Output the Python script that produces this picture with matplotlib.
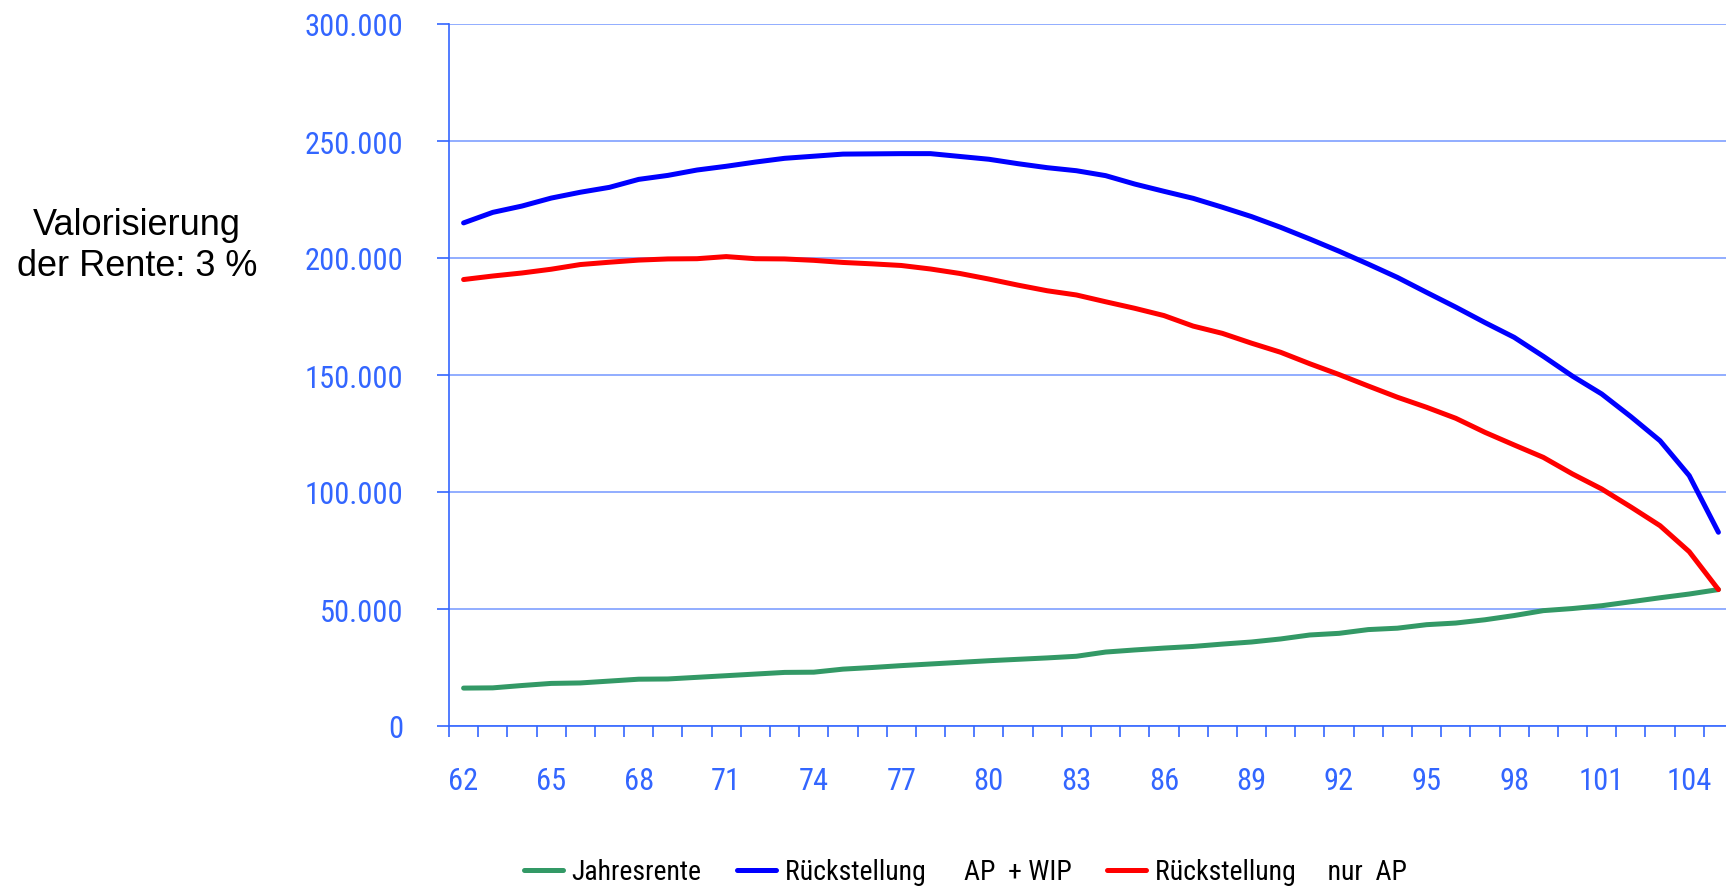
import numpy as np
import matplotlib
matplotlib.use('Agg')
import matplotlib.pyplot as plt
from matplotlib.ticker import FuncFormatter, FixedLocator

# Alter (Jahre)
alter = list(range(62, 106))

# Jahresrente
jahresrente = [16.2, 16.3, 17.3, 18.2, 18.4, 19.2, 20.0, 20.1, 20.8, 21.5,
               22.2, 22.9, 23.0, 24.3, 25.0, 25.8, 26.5, 27.2, 27.9, 28.5,
               29.1, 29.8, 31.6, 32.5, 33.3, 34.0, 35.0, 35.9, 37.2, 38.9,
               39.6, 41.2, 41.8, 43.3, 44.0, 45.4, 47.2, 49.3, 50.2, 51.4,
               53.1, 54.8, 56.4, 58.3]

# Rueckstellung AP + WIP
rst_ap_wip = [215.0, 219.5, 222.2, 225.6, 228.1, 230.2, 233.6, 235.3, 237.6, 239.2,
              241.0, 242.6, 243.5, 244.4, 244.5, 244.6, 244.6, 243.4, 242.2, 240.3,
              238.6, 237.3, 235.2, 231.6, 228.5, 225.5, 221.7, 217.7, 213.1, 208.1,
              202.9, 197.4, 191.7, 185.3, 179.0, 172.4, 166.1, 158.0, 149.5, 141.9,
              132.2, 121.9, 107.0, 82.8]

# Rueckstellung nur AP
rst_ap = [190.8, 192.3, 193.6, 195.2, 197.2, 198.2, 199.1, 199.6, 199.7, 200.6,
          199.7, 199.6, 199.0, 198.1, 197.5, 196.8, 195.3, 193.4, 191.0, 188.4,
          186.0, 184.2, 181.3, 178.5, 175.4, 170.9, 167.8, 163.6, 159.7, 154.8,
          150.2, 145.3, 140.5, 136.2, 131.5, 125.5, 120.1, 114.8, 107.7, 101.3,
          93.6, 85.6, 74.5, 58.3]

labels = ['Jahresrente', 'Rückstellung      AP  + WIP', 'Rückstellung     nur  AP']
colors = ['#339966', '#0000FF', '#FF0000']

axis_blue = '#3366FF'
grid_blue = '#7F9FFF'
# schmale Schrift, falls vorhanden
narrow = ['Noto Sans Condensed', 'Roboto Condensed', 'Open Sans Condensed', 'Liberation Sans']

W, H = 1726, 887
fig = plt.figure(figsize=(W / 100, H / 100), dpi=100)
ax = fig.add_axes([449 / W, (H - 727) / H, (1733 - 449) / W, (727 - 25) / H])

x = np.array(alter)
for vals, lab, col in zip([jahresrente, rst_ap_wip, rst_ap], labels, colors):
    ax.plot(x, np.array(vals) * 1000, color=col, lw=3.6, label=lab,
            solid_joinstyle='round', solid_capstyle='round', clip_on=False)

ax.set_xlim(61.5, 105.5)
ax.set_ylim(0, 300000)
ax.set_yticks(np.arange(0, 300001, 50000))
ax.yaxis.set_major_formatter(FuncFormatter(lambda v, p: f'{int(v):,}'.replace(',', '.')))
ax.yaxis.grid(True, color=grid_blue, lw=1.2)
ax.set_axisbelow(True)

ax.xaxis.set_major_locator(FixedLocator(list(range(62, 105, 3))))
ax.xaxis.set_minor_locator(FixedLocator(list(np.arange(61.5, 106, 1.0))))
ax.tick_params(axis='x', which='major', length=0, pad=29, labelsize=22, labelcolor=axis_blue)
ax.tick_params(axis='x', which='minor', length=8, width=1.2, color=axis_blue, direction='out')
ax.tick_params(axis='y', length=9, width=1.2, color=axis_blue, pad=24,
               labelsize=22, labelcolor=axis_blue)
for t in ax.get_xticklabels() + ax.get_yticklabels():
    t.set_family(narrow)
    t.set_stretch('condensed')

for s in ['top', 'right']:
    ax.spines[s].set_visible(False)
for s in ['left', 'bottom']:
    ax.spines[s].set_color(axis_blue)
    ax.spines[s].set_linewidth(1.2)

fig.text(137 / W, 1 - 246 / H, 'Valorisierung\nder Rente: 3 %', ha='center', va='center',
         fontsize=26, family=['Liberation Sans', 'DejaVu Sans'], color='black', linespacing=1.25)

fig.legend(loc='center left', bbox_to_anchor=(524 / W, 1 - 873 / H), ncol=3, frameon=False,
           prop={'family': narrow, 'size': 20, 'stretch': 'condensed'},
           handlelength=1.4, handletextpad=0.3,
           columnspacing=1.3, borderpad=0, borderaxespad=0)

fig.savefig('out.png', dpi=100)
